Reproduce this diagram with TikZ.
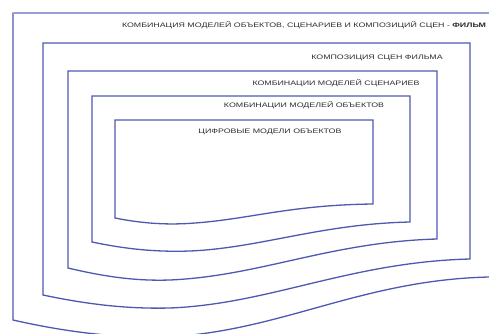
\documentclass[tikz,border=0pt]{standalone}
\usepackage{fontspec}
\usepackage{graphicx}
\setmainfont{Liberation Sans}
\definecolor{frameblue}{RGB}{78,88,178}
\definecolor{toplineblue}{RGB}{150,158,215}
\definecolor{labelgray}{RGB}{45,45,50}
% labels are set in a horizontally extended sans
\newcommand{\stretchlab}[1]{\scalebox{1.36}[1]{#1}}
\begin{document}
\begin{tikzpicture}[x=1pt,y=-1pt,
  frame/.style={draw=frameblue,line width=1.3pt,line join=miter},
  lab/.style={inner sep=0pt,text=labelgray,font=\fontsize{6.5}{7.5}\selectfont}]
\useasboundingbox (0,0) rectangle (489,334);
\fill[white] (0,0) rectangle (489,334);
\begin{scope}
\clip (0,0) rectangle (489,334);
% outer level: film (open on the right)
\draw[draw=toplineblue,line width=1.3pt] (489,13) -- (13.65,13);
\draw[frame] (13,12.35) -- (13,320)
  .. controls (70,333) and (120,338) .. (165,337)
  .. controls (280,332) and (360,280) .. (489,277);
% scene composition
\draw[frame] (470,43) -- (43,43) -- (43,295)
  .. controls (90,305) and (130,309) .. (170,308)
  .. controls (270,304) and (350,262) .. (470,259) -- cycle;
% scenario model combinations
\draw[frame] (437,71) -- (68,71) -- (68,268)
  .. controls (110,278) and (140,281) .. (170,280)
  .. controls (260,276) and (330,242) .. (437,239) -- cycle;
% object model combinations
\draw[frame] (410,96) -- (92,96) -- (92,242)
  .. controls (130,250) and (160,252) .. (190,251)
  .. controls (260,248) and (320,224) .. (410,222) -- cycle;
% digital object models
\draw[frame] (373,120) -- (115,120) -- (115,218)
  .. controls (145,224) and (170,225) .. (195,223)
  .. controls (250,219) and (290,205) .. (373,204) -- cycle;
\end{scope}
\node[lab] (t1) at (304,25) {\stretchlab{КОМБИНАЦИЯ МОДЕЛЕЙ ОБЪЕКТОВ, СЦЕНАРИЕВ И КОМПОЗИЦИЙ СЦЕН - \textbf{ФИЛЬМ}}};
\node[lab] (t2) at (377,58) {\stretchlab{КОМПОЗИЦИЯ СЦЕН ФИЛЬМА}};
\node[lab] (t3) at (336,83) {\stretchlab{КОМБИНАЦИИ МОДЕЛЕЙ СЦЕНАРИЕВ}};
\node[lab] (t4) at (304,105) {\stretchlab{КОМБИНАЦИИ МОДЕЛЕЙ ОБЪЕКТОВ}};
\node[lab] (t5) at (270,132) {\stretchlab{ЦИФРОВЫЕ МОДЕЛИ ОБЪЕКТОВ}};
\end{tikzpicture}
\end{document}
